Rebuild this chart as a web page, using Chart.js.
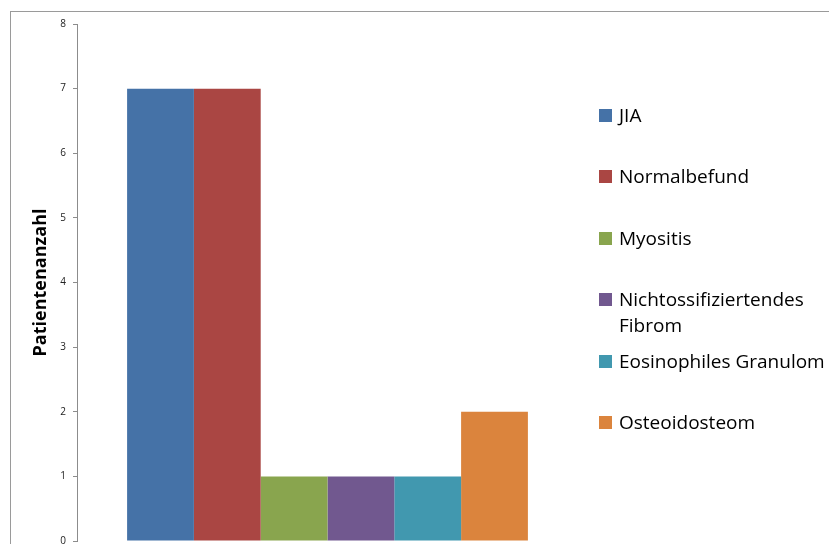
<!DOCTYPE html>
<html>
<head>
<meta charset="utf-8">
<script src="https://cdn.jsdelivr.net/npm/chart.js@4/dist/chart.umd.min.js"></script>
<style>
    body { margin: 0; background: #fff; }
    #wrap { position: relative; width: 829px; height: 544px; overflow: hidden; }
    #frame { position: absolute; left: 10px; top: 11px; width: 900px; height: 600px;
             border-left: 1px solid #9a9a9a; border-top: 1px solid #9a9a9a; }
    #chart { position: absolute; left: 0; top: 0; }
    #legend { position: absolute; left: 0; top: 0; font-family: "Open Sans", sans-serif; font-size: 19px; color: #000; }
    .item { position: absolute; left: 599px; white-space: pre; line-height: 26px; }
    .box { position: absolute; left: 0; top: 7px; width: 13px; height: 13px; }
    .txt { position: absolute; left: 20px; top: 0; }
</style>
</head>
<body>
<div id="wrap">
    <div id="frame"></div>
    <canvas id="chart" width="829" height="544"></canvas>
    <div id="legend"></div>
</div>
<script>
// Diagnosen und Patientenzahlen
var categories = [''];
var diagnosen = ['JIA', 'Normalbefund', 'Myositis', 'Nichtossifiziertendes\nFibrom', 'Eosinophiles Granulom', 'Osteoidosteom'];
var patientenanzahl = [7, 7, 1, 1, 1, 2];
var farben = ['#4572a7', '#aa4643', '#89a54e', '#71588f', '#4198af', '#db843d'];
var yTicks = [0, 1, 2, 3, 4, 5, 6, 7, 8];

var datasets = diagnosen.map(function (name, i) {
    return {
        label: name,
        data: [patientenanzahl[i]],
        backgroundColor: farben[i],
        borderWidth: 0
    };
});

var ctx = document.getElementById('chart').getContext('2d');
var chart = new Chart(ctx, {
    type: 'bar',
    data: {
        labels: categories,
        datasets: datasets
    },
    options: {
        responsive: false,
        animation: false,
        categoryPercentage: 0.8,
        barPercentage: 1.0,
        layout: {
            padding: { left: 0, top: 24, right: 251, bottom: 3 }
        },
        plugins: {
            legend: { display: false },
            tooltip: { enabled: false }
        },
        scales: {
            x: { display: false },
            y: {
                min: 0,
                max: 8,
                afterFit: function (scale) {
                    scale.width = 77;
                    scale.paddingTop = 0;
                    scale.paddingBottom = 0;
                },
                afterBuildTicks: function (scale) {
                    scale.ticks = yTicks.map(function (v) { return { value: v }; });
                },
                border: { color: '#8c8c8c', width: 1 },
                grid: { drawOnChartArea: false, tickLength: 4, color: '#8c8c8c' },
                ticks: {
                    padding: 7,
                    color: '#222',
                    font: { family: 'Open Sans', size: 10 }
                },
                title: {
                    display: true,
                    text: 'Patientenanzahl',
                    color: '#000',
                    padding: { top: 30 },
                    font: { family: 'Open Sans', size: 18, weight: 'bold' }
                }
            }
        }
    }
});

// Legende rechts neben dem Diagramm
var legend = document.getElementById('legend');
chart.data.datasets.forEach(function (ds, i) {
    var item = document.createElement('div');
    item.className = 'item';
    item.style.top = (102 + i * 61.4) + 'px';
    var box = document.createElement('div');
    box.className = 'box';
    box.style.background = ds.backgroundColor;
    var txt = document.createElement('div');
    txt.className = 'txt';
    txt.textContent = ds.label;
    item.appendChild(box);
    item.appendChild(txt);
    legend.appendChild(item);
});
</script>
</body>
</html>
